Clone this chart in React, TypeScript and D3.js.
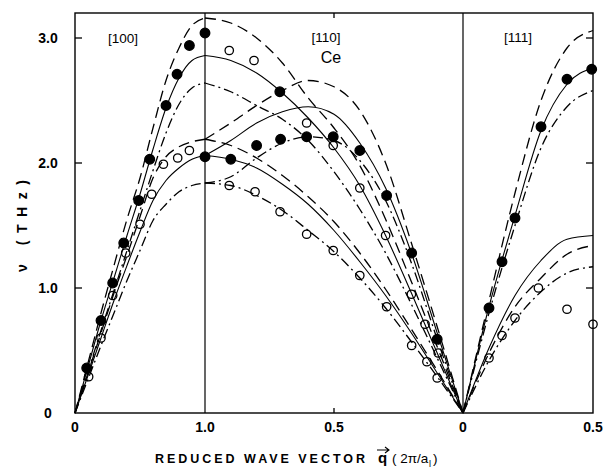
import React from "react";
import * as d3 from "d3";

// ---------- data ----------
// [100] direction, reduced q from 0 to 1.0
const q100 = [0, 0.1, 0.2, 0.3, 0.4, 0.5, 0.6, 0.7, 0.8, 0.9, 1.0];
const L100Solid = [0, 0.37, 0.74, 1.08, 1.42, 1.75, 2.11, 2.44, 2.68, 2.82, 2.86];
const L100Dash = [0, 0.4, 0.8, 1.18, 1.55, 1.88, 2.28, 2.66, 2.92, 3.1, 3.16];
const L100DashDot = [0, 0.33, 0.66, 0.98, 1.3, 1.62, 1.94, 2.24, 2.47, 2.6, 2.64];
const T100Solid = [0, 0.3, 0.6, 0.9, 1.18, 1.45, 1.7, 1.86, 1.96, 2.03, 2.06];
const T100Dash = [0, 0.32, 0.64, 0.96, 1.26, 1.57, 1.88, 2.05, 2.13, 2.17, 2.19];
const T100DashDot = [0, 0.27, 0.54, 0.8, 1.06, 1.3, 1.54, 1.67, 1.77, 1.82, 1.84];

// [110] direction, reduced q from 1.0 down to 0
const q110 = [1.0, 0.9, 0.8, 0.7, 0.6, 0.5, 0.4, 0.3, 0.2, 0.1, 0];
const T1_110Solid = [2.86, 2.82, 2.72, 2.56, 2.36, 2.12, 1.82, 1.42, 0.96, 0.48, 0];
const T1_110Dash = [3.16, 3.12, 3.0, 2.8, 2.52, 2.28, 1.98, 1.55, 1.05, 0.53, 0];
const T1_110DashDot = [2.64, 2.57, 2.46, 2.35, 2.18, 1.93, 1.63, 1.28, 0.87, 0.44, 0];
const L110Solid = [2.06, 2.18, 2.32, 2.41, 2.45, 2.39, 2.16, 1.8, 1.28, 0.64, 0];
const L110Dash = [2.19, 2.32, 2.46, 2.58, 2.66, 2.61, 2.42, 2.0, 1.36, 0.69, 0];
const L110DashDot = [1.84, 1.89, 2.04, 2.16, 2.21, 2.18, 2.02, 1.7, 1.2, 0.59, 0];
const T2_110Solid = [2.06, 2.03, 1.96, 1.83, 1.67, 1.46, 1.21, 0.94, 0.64, 0.32, 0];
const T2_110Dash = [2.19, 2.14, 2.04, 1.9, 1.73, 1.53, 1.28, 0.99, 0.67, 0.34, 0];
const T2_110DashDot = [1.84, 1.82, 1.74, 1.62, 1.46, 1.29, 1.08, 0.84, 0.57, 0.29, 0];

// [111] direction, reduced q from 0 to 0.5
const q111 = [0, 0.1, 0.2, 0.3, 0.4, 0.5];
const L111Solid = [0, 0.85, 1.58, 2.26, 2.63, 2.76];
const L111Dash = [0, 0.9, 1.76, 2.5, 2.92, 3.06];
const L111DashDot = [0, 0.8, 1.5, 2.12, 2.45, 2.58];
const T111Solid = [0, 0.52, 0.94, 1.22, 1.39, 1.42];
const T111Dash = [0, 0.48, 0.85, 1.08, 1.27, 1.34];
const T111DashDot = [0, 0.42, 0.74, 0.97, 1.12, 1.17];

// measured points
const filled100Q = [0.09, 0.2, 0.29, 0.375, 0.49, 0.575, 0.7, 0.785, 0.88, 1.0, 1.0];
const filled100V = [0.36, 0.74, 1.04, 1.36, 1.7, 2.03, 2.46, 2.71, 2.94, 3.04, 2.05];
const open100Q = [0.105, 0.2, 0.29, 0.39, 0.5, 0.59, 0.68, 0.79, 0.88];
const open100V = [0.29, 0.6, 0.94, 1.28, 1.51, 1.75, 1.99, 2.04, 2.1];

const filled110Q = [0.9, 0.8, 0.707, 0.71, 0.606, 0.503, 0.4, 0.296, 0.199, 0.1];
const filled110V = [2.03, 2.14, 2.19, 2.57, 2.21, 2.21, 2.1, 1.74, 1.28, 0.59];
const open110Q = [0.906, 0.81, 0.606, 0.503, 0.4, 0.3, 0.2, 0.147, 0.096, 0.906, 0.806, 0.709, 0.606, 0.503, 0.4, 0.296, 0.199, 0.14, 0.1];
const open110V = [2.9, 2.82, 2.32, 2.14, 1.8, 1.42, 0.95, 0.71, 0.48, 1.82, 1.77, 1.61, 1.43, 1.3, 1.1, 0.85, 0.54, 0.41, 0.28];

const filled111Q = [0.1, 0.15, 0.2, 0.3, 0.4, 0.495];
const filled111V = [0.84, 1.21, 1.56, 2.29, 2.67, 2.75];
const open111Q = [0.1, 0.15, 0.2, 0.29, 0.4, 0.5];
const open111V = [0.44, 0.62, 0.76, 1.0, 0.83, 0.71];

// ticks
const yTickValues = [0, 1, 2, 3];
const yTickLabels = ["0", "1.0", "2.0", "3.0"];

const FONT = "'Liberation Sans', Arial, Helvetica, sans-serif";
const DASH: Record<string, string | undefined> = {
  solid: undefined,
  dash: "11,6",
  dashdot: "10,4,2,4",
};

export default function App() {
  const y = d3.scaleLinear().domain([0, 3.2]).range([413, 13]);
  const x100 = d3.scaleLinear().domain([0, 1]).range([75, 205]);
  const x110 = d3.scaleLinear().domain([1, 0]).range([205, 463]);
  const x111 = d3.scaleLinear().domain([0, 0.5]).range([463, 593]);

  const curves: { q: number[]; v: number[]; x: d3.ScaleLinear<number, number>; s: string }[] = [
    { q: q100, v: L100Solid, x: x100, s: "solid" },
    { q: q100, v: L100Dash, x: x100, s: "dash" },
    { q: q100, v: L100DashDot, x: x100, s: "dashdot" },
    { q: q100, v: T100Solid, x: x100, s: "solid" },
    { q: q100, v: T100Dash, x: x100, s: "dash" },
    { q: q100, v: T100DashDot, x: x100, s: "dashdot" },
    { q: q110, v: T1_110Solid, x: x110, s: "solid" },
    { q: q110, v: T1_110Dash, x: x110, s: "dash" },
    { q: q110, v: T1_110DashDot, x: x110, s: "dashdot" },
    { q: q110, v: L110Solid, x: x110, s: "solid" },
    { q: q110, v: L110Dash, x: x110, s: "dash" },
    { q: q110, v: L110DashDot, x: x110, s: "dashdot" },
    { q: q110, v: T2_110Solid, x: x110, s: "solid" },
    { q: q110, v: T2_110Dash, x: x110, s: "dash" },
    { q: q110, v: T2_110DashDot, x: x110, s: "dashdot" },
    { q: q111, v: L111Solid, x: x111, s: "solid" },
    { q: q111, v: L111Dash, x: x111, s: "dash" },
    { q: q111, v: L111DashDot, x: x111, s: "dashdot" },
    { q: q111, v: T111Solid, x: x111, s: "solid" },
    { q: q111, v: T111Dash, x: x111, s: "dash" },
    { q: q111, v: T111DashDot, x: x111, s: "dashdot" },
  ];

  const line = d3.line<[number, number]>().curve(d3.curveMonotoneX);
  const paths = curves.map((c) => {
    const pts = c.q
      .map((q, i) => [c.x(q), y(c.v[i])] as [number, number])
      .sort((a, b) => a[0] - b[0]);
    return { d: line(pts) || "", s: c.s };
  });

  const pointSets = [
    { q: filled100Q, v: filled100V, x: x100, filled: true },
    { q: open100Q, v: open100V, x: x100, filled: false },
    { q: filled110Q, v: filled110V, x: x110, filled: true },
    { q: open110Q, v: open110V, x: x110, filled: false },
    { q: filled111Q, v: filled111V, x: x111, filled: true },
    { q: open111Q, v: open111V, x: x111, filled: false },
  ];

  const left = x100(0), right = x111(0.5), top = y(3.2), bottom = y(0);

  return (
    <svg width={605} height={468} style={{ position: "absolute", left: 0, top: 0, background: "#fff" }}
      fontFamily={FONT}>
      <rect x={0} y={0} width={605} height={468} fill="#fff" />
      {/* frame */}
      <rect x={left} y={top} width={right - left} height={bottom - top} fill="none" stroke="#000" strokeWidth={1.4} />
      <line x1={x100(1)} x2={x100(1)} y1={top} y2={bottom} stroke="#000" strokeWidth={1.2} />
      <line x1={x110(0)} x2={x110(0)} y1={top} y2={bottom} stroke="#000" strokeWidth={1.2} />

      {/* ticks */}
      {yTickValues.slice(1).map((t) => (
        <g key={"yt" + t}>
          <line x1={left} x2={left + 7} y1={y(t)} y2={y(t)} stroke="#000" strokeWidth={1.3} />
          <line x1={right - 7} x2={right} y1={y(t)} y2={y(t)} stroke="#000" strokeWidth={1.3} />
        </g>
      ))}
      <line x1={x110(0.5)} x2={x110(0.5)} y1={bottom} y2={bottom - 5} stroke="#000" strokeWidth={1.3} />
      <line x1={x110(0.5)} x2={x110(0.5)} y1={top} y2={top + 5} stroke="#000" strokeWidth={1.3} />

      {/* curves */}
      {paths.map((p, i) => (
        <path key={"c" + i} d={p.d} fill="none" stroke="#000" strokeWidth={p.s === "solid" ? 1.1 : 1.3}
          strokeDasharray={DASH[p.s]} />
      ))}

      {/* points */}
      {pointSets.map((ps, k) =>
        ps.q.map((q, i) => (
          <circle key={"p" + k + "-" + i} cx={ps.x(q)} cy={y(ps.v[i])} r={ps.filled ? 4.8 : 4.2}
            fill={ps.filled ? "#000" : "none"} stroke="#000" strokeWidth={1.3} />
        ))
      )}

      {/* y tick labels */}
      {yTickValues.map((t, i) => (
        <text key={"yl" + t} x={48} y={y(t) + 5} textAnchor="middle" fontSize={14} fontWeight="bold" fill="#000">
          {yTickLabels[i]}
        </text>
      ))}

      {/* x tick labels */}
      <text x={x100(0)} y={432} textAnchor="middle" fontSize={14} fontWeight="bold">0</text>
      <text x={x100(1)} y={432} textAnchor="middle" fontSize={14} fontWeight="bold">1.0</text>
      <text x={x110(0.5)} y={432} textAnchor="middle" fontSize={14} fontWeight="bold">0.5</text>
      <text x={x110(0)} y={432} textAnchor="middle" fontSize={14} fontWeight="bold">0</text>
      <text x={x111(0.5)} y={432} textAnchor="middle" fontSize={14} fontWeight="bold">0.5</text>

      {/* direction labels */}
      <text x={123} y={43} textAnchor="middle" fontSize={13.5}>[100]</text>
      <text x={326} y={42} textAnchor="middle" fontSize={13.5}>[110]</text>
      <text x={331} y={63} textAnchor="middle" fontSize={16}>Ce</text>
      <text x={518} y={42} textAnchor="middle" fontSize={13.5}>[111]</text>

      {/* y axis title */}
      <text transform="translate(27,226) rotate(-90)" textAnchor="middle" fontSize={14} fontWeight="bold"
        textLength={92} lengthAdjust="spacing">
        ν (THz)
      </text>

      {/* x axis title */}
      <text x={155} y={463} fontSize={12.5} fontWeight="bold" textLength={210} lengthAdjust="spacing">REDUCED WAVE VECTOR</text>
      <text x={378} y={463} fontSize={15} fontWeight="bold">q</text>
      <path d="M377,450 L389,450 M385,447 L389,450 L385,453" fill="none" stroke="#000" strokeWidth={1.1} />
      <text x={392} y={463} fontSize={13.5}>( 2π/a</text>
      <text x={429} y={467} fontSize={9}>l</text>
      <text x={433} y={463} fontSize={13.5}> )</text>
    </svg>
  );
}
